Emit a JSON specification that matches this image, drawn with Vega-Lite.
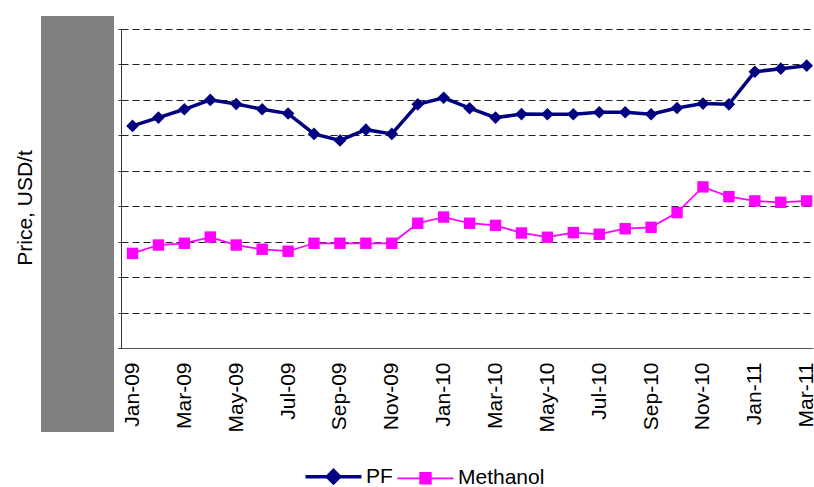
{
  "$schema": "https://vega.github.io/schema/vega-lite/v6.json",
  "padding": {"left": 14, "top": 16, "right": 0, "bottom": 0},
  "background": "white",
  "config": {"font": "Liberation Sans", "view": {"stroke": null}},
  "spacing": 3,
  "bounds": "full",
  "hconcat": [
    {
      "width": 73,
      "height": 416,
      "view": {"fill": "#808080", "stroke": null},
      "data": {"values": [{"v": 0}]},
      "mark": {"type": "point", "opacity": 0},
      "encoding": {
        "y": {
          "field": "v",
          "type": "quantitative",
          "axis": {
            "title": "Price, USD/t",
            "labels": false,
            "ticks": false,
            "domain": false,
            "grid": false,
            "titleFontSize": 21,
            "titleFontWeight": "normal",
            "titleColor": "black",
            "titleFont": "Liberation Sans",
            "titlePadding": 6,
            "titleY": 191.5
          }
        }
      }
    },
    {
      "width": 692,
      "height": 332,
      "data": {
        "values": [
          {"month": "Jan-09", "series": "PF", "price": 1253},
          {"month": "Feb-09", "series": "PF", "price": 1300},
          {"month": "Mar-09", "series": "PF", "price": 1347},
          {"month": "Apr-09", "series": "PF", "price": 1400},
          {"month": "May-09", "series": "PF", "price": 1377},
          {"month": "Jun-09", "series": "PF", "price": 1347},
          {"month": "Jul-09", "series": "PF", "price": 1323},
          {"month": "Aug-09", "series": "PF", "price": 1208},
          {"month": "Sep-09", "series": "PF", "price": 1171},
          {"month": "Oct-09", "series": "PF", "price": 1232},
          {"month": "Nov-09", "series": "PF", "price": 1208},
          {"month": "Dec-09", "series": "PF", "price": 1375},
          {"month": "Jan-10", "series": "PF", "price": 1412},
          {"month": "Feb-10", "series": "PF", "price": 1353},
          {"month": "Mar-10", "series": "PF", "price": 1300},
          {"month": "Apr-10", "series": "PF", "price": 1320},
          {"month": "May-10", "series": "PF", "price": 1319},
          {"month": "Jun-10", "series": "PF", "price": 1319},
          {"month": "Jul-10", "series": "PF", "price": 1330},
          {"month": "Aug-10", "series": "PF", "price": 1330},
          {"month": "Sep-10", "series": "PF", "price": 1319},
          {"month": "Oct-10", "series": "PF", "price": 1354},
          {"month": "Nov-10", "series": "PF", "price": 1379},
          {"month": "Dec-10", "series": "PF", "price": 1375},
          {"month": "Jan-11", "series": "PF", "price": 1559},
          {"month": "Feb-11", "series": "PF", "price": 1576},
          {"month": "Mar-11", "series": "PF", "price": 1593},
          {"month": "Jan-09", "series": "Methanol", "price": 534},
          {"month": "Feb-09", "series": "Methanol", "price": 581},
          {"month": "Mar-09", "series": "Methanol", "price": 591},
          {"month": "Apr-09", "series": "Methanol", "price": 626},
          {"month": "May-09", "series": "Methanol", "price": 581},
          {"month": "Jun-09", "series": "Methanol", "price": 557},
          {"month": "Jul-09", "series": "Methanol", "price": 546},
          {"month": "Aug-09", "series": "Methanol", "price": 591},
          {"month": "Sep-09", "series": "Methanol", "price": 591},
          {"month": "Oct-09", "series": "Methanol", "price": 591},
          {"month": "Nov-09", "series": "Methanol", "price": 591},
          {"month": "Dec-09", "series": "Methanol", "price": 704},
          {"month": "Jan-10", "series": "Methanol", "price": 739},
          {"month": "Feb-10", "series": "Methanol", "price": 704},
          {"month": "Mar-10", "series": "Methanol", "price": 692},
          {"month": "Apr-10", "series": "Methanol", "price": 649},
          {"month": "May-10", "series": "Methanol", "price": 625},
          {"month": "Jun-10", "series": "Methanol", "price": 651},
          {"month": "Jul-10", "series": "Methanol", "price": 642},
          {"month": "Aug-10", "series": "Methanol", "price": 673},
          {"month": "Sep-10", "series": "Methanol", "price": 681},
          {"month": "Oct-10", "series": "Methanol", "price": 764},
          {"month": "Nov-10", "series": "Methanol", "price": 909},
          {"month": "Dec-10", "series": "Methanol", "price": 854},
          {"month": "Jan-11", "series": "Methanol", "price": 830},
          {"month": "Feb-11", "series": "Methanol", "price": 822},
          {"month": "Mar-11", "series": "Methanol", "price": 830}
        ]
      },
      "encoding": {
        "x": {
          "field": "month",
          "type": "ordinal",
          "sort": null,
          "scale": {"type": "point", "padding": 0.3435, "align": 0.646},
          "axis": {
            "title": null,
            "values": ["Jan-09", "Mar-09", "May-09", "Jul-09", "Sep-09", "Nov-09", "Jan-10", "Mar-10", "May-10", "Jul-10", "Sep-10", "Nov-10", "Jan-11", "Mar-11"],
            "labelAngle": -90,
            "labelFontSize": 21,
            "labelFont": "Liberation Sans",
            "labelColor": "black",
            "ticks": false,
            "labelPadding": 14,
            "domainColor": "#555555",
            "domainWidth": 1,
            "grid": false
          }
        },
        "y": {
          "field": "price",
          "type": "quantitative",
          "scale": {"domain": [0, 1873.35], "nice": false},
          "axis": {
            "title": null,
            "labels": false,
            "values": [0, 200, 400, 600, 800, 1000, 1200, 1400, 1600, 1800],
            "tickSize": 3,
            "tickColor": "#333333",
            "domainColor": "#333333",
            "domainDash": [319, 13],
            "grid": true,
            "gridDash": [7, 4],
            "gridColor": "#222222",
            "gridWidth": 1,
            "gridOpacity": 1
          }
        },
        "color": {
          "field": "series",
          "type": "nominal",
          "scale": {"domain": ["PF", "Methanol"], "range": ["#000080", "#FF00FF"]},
          "legend": {
            "orient": "none",
            "legendX": 282,
            "legendY": 450,
            "direction": "horizontal",
            "title": null,
            "symbolSize": 3136,
            "labelFontSize": 21,
            "labelFont": "Liberation Sans",
            "labelColor": "black",
            "labelOffset": 22,
            "columnPadding": 1,
            "padding": 0,
            "encode": {
              "symbols": {
                "update": {
                  "shape": {"signal": "datum.value === 'PF' ? 'M-1,0H1M0,-0.22L0.22,0L0,0.22L-0.22,0Z' : 'M-1,0H1M-0.19,-0.19H0.19V0.19H-0.19Z'"},
                  "size": {"value": 3136},
                  "fill": {"signal": "datum.value === 'PF' ? '#000080' : '#FF00FF'"},
                  "stroke": {"signal": "datum.value === 'PF' ? '#000080' : '#FF00FF'"},
                  "strokeWidth": {"signal": "datum.value === 'PF' ? 3.5 : 1.75"},
                  "strokeOpacity": {"value": 1},
                  "fillOpacity": {"value": 1},
                  "opacity": {"value": 1}
                }
              }
            }
          }
        }
      },
      "layer": [
        {
          "transform": [{"filter": "datum.series === 'PF'"}],
          "mark": {"type": "line", "strokeWidth": 3.5}
        },
        {
          "transform": [{"filter": "datum.series === 'Methanol'"}],
          "mark": {"type": "line", "strokeWidth": 1.75}
        },
        {
          "transform": [{"filter": "datum.series === 'PF'"}],
          "mark": {"type": "point", "filled": true, "opacity": 1, "shape": "diamond", "size": 160}
        },
        {
          "transform": [{"filter": "datum.series === 'Methanol'"}],
          "mark": {"type": "point", "filled": true, "opacity": 1, "shape": "square", "size": 130}
        }
      ]
    }
  ]
}
